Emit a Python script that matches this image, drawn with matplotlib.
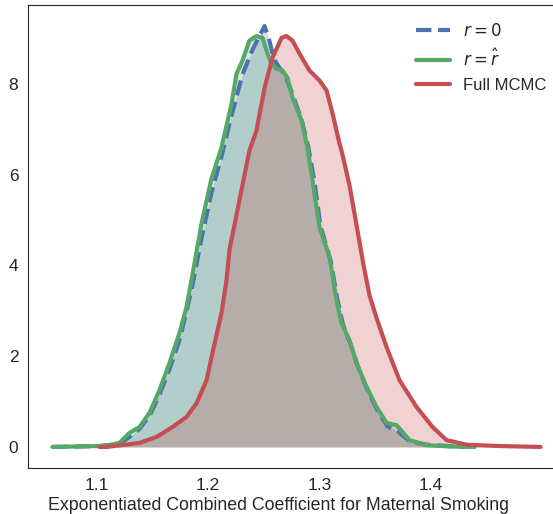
#
# Densidades del coeficiente combinado
#
import matplotlib
matplotlib.use("Agg")
import matplotlib.pyplot as plt
import seaborn as sns

sns.set_style("white")
plt.rcParams["font.family"] = ["Liberation Sans", "DejaVu Sans"]

# r = 0
x_r0 = [1.0605, 1.1027, 1.1206, 1.1296, 1.1386, 1.1475, 1.1565, 1.1655, 1.1744,
        1.1852, 1.1942, 1.2031, 1.2121, 1.2211, 1.2309, 1.2390, 1.2450, 1.2507,
        1.2550, 1.2590, 1.2640, 1.2690, 1.2760, 1.2840, 1.2900, 1.2950, 1.3010,
        1.3100, 1.3160, 1.3210, 1.3280, 1.3340, 1.3430, 1.3520, 1.3610, 1.3700,
        1.3810, 1.3960, 1.4170, 1.4300]
y_r0 = [0.00, 0.02, 0.07, 0.22, 0.40, 0.68, 1.15, 1.72, 2.35,
        3.45, 4.60, 5.60, 6.40, 7.30, 8.20, 8.70, 9.00, 9.27,
        8.95, 8.55, 8.35, 8.20, 7.75, 7.20, 6.60, 5.90, 4.85,
        4.10, 3.25, 2.70, 2.25, 1.80, 1.25, 0.80, 0.45, 0.35,
        0.12, 0.05, 0.02, 0.00]

# r = r_hat
x_rhat = [1.0605, 1.1027, 1.1117, 1.1206, 1.1296, 1.1386, 1.1475, 1.1565, 1.1655,
          1.1744, 1.1807, 1.1852, 1.1942, 1.2031, 1.2121, 1.2211, 1.2256, 1.2309,
          1.2372, 1.2435, 1.2489, 1.2534, 1.2570, 1.2614, 1.2668, 1.2713, 1.2758,
          1.2839, 1.2892, 1.2937, 1.3000, 1.3090, 1.3152, 1.3197, 1.3269, 1.3332,
          1.3422, 1.3511, 1.3601, 1.3691, 1.3807, 1.3960, 1.4166, 1.4390]
y_rhat = [0.00, 0.02, 0.04, 0.09, 0.31, 0.44, 0.75, 1.25, 1.85,
          2.51, 3.08, 3.67, 4.92, 5.91, 6.59, 7.56, 8.22, 8.51,
          8.95, 9.05, 9.01, 8.66, 8.44, 8.33, 8.29, 8.13, 7.69,
          7.19, 6.59, 5.87, 4.84, 4.18, 3.23, 2.73, 2.35, 1.85,
          1.32, 0.88, 0.53, 0.48, 0.15, 0.04, 0.01, 0.00]

# Full MCMC
x_mcmc = [1.1027, 1.1090, 1.1386, 1.1538, 1.1682, 1.1807, 1.1897, 1.1987, 1.2040,
          1.2121, 1.2166, 1.2193, 1.2283, 1.2372, 1.2435, 1.2507, 1.2578, 1.2659,
          1.2704, 1.2758, 1.2821, 1.2910, 1.3000, 1.3063, 1.3117, 1.3179, 1.3197,
          1.3269, 1.3332, 1.3395, 1.3448, 1.3511, 1.3601, 1.3717, 1.3870, 1.4013,
          1.4139, 1.4318, 1.4614, 1.4982]
y_mcmc = [0.00, 0.00, 0.09, 0.22, 0.44, 0.66, 0.96, 1.47, 2.07,
          2.95, 3.67, 4.35, 5.45, 6.53, 6.97, 7.91, 8.57, 9.01,
          9.05, 8.95, 8.66, 8.29, 8.07, 7.85, 7.34, 6.68, 6.53,
          5.76, 4.88, 4.00, 3.34, 2.84, 2.20, 1.47, 0.88, 0.44,
          0.15, 0.05, 0.02, 0.00]

labels = ["$r = 0$", r"$r = \hat{r}$", "Full MCMC"]
colors = ["#4C72B0", "#55A868", "#C44E52"]

fig = plt.figure(figsize=(5.53, 5.14), dpi=100)
ax = fig.add_axes([28 / 553, 46 / 514, 537 / 553, 463 / 514])

series = [(x_r0, y_r0, "--"), (x_rhat, y_rhat, "-"), (x_mcmc, y_mcmc, "-")]
for (xs, ys, ls), lab, col in zip(series, labels, colors):
    ax.fill_between(xs, ys, color=col, alpha=0.25, linewidth=0)
    ax.plot(xs, ys, ls, color=col, lw=3, label=lab, solid_joinstyle="round")

ax.set_xticks([1.1, 1.2, 1.3, 1.4])
ax.set_yticks([0, 2, 4, 6, 8])
ax.tick_params(labelsize=12.5)
ax.set_xlabel("Exponentiated Combined Coefficient for Maternal Smoking", fontsize=12.8)
ax.xaxis.set_label_coords(0.466, -0.063)

ax.legend(loc="upper left", bbox_to_anchor=(0.695, 0.995), frameon=False, fontsize=12)

plt.savefig("out.png", dpi=100)
